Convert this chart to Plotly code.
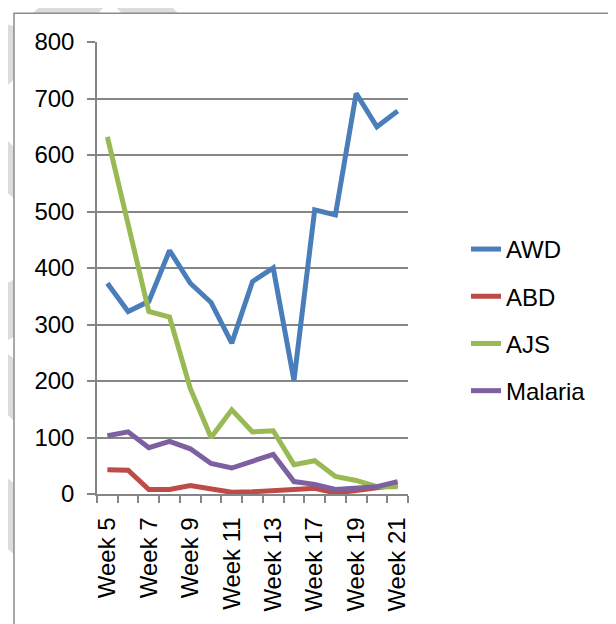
import plotly.graph_objects as go

weeks = ["Week 5", "Week 6", "Week 7", "Week 8", "Week 9", "Week 10", "Week 11",
         "Week 12", "Week 13", "Week 15", "Week 17", "Week 18", "Week 19",
         "Week 20", "Week 21"]
awd = [373, 323, 341, 431, 373, 339, 267, 376, 400, 201, 503, 494, 709, 650, 678]
abd = [43, 42, 8, 8, 15, 8, 3, 4, 7, 8, 10, 2, 6, 10, 16]
ajs = [632, 478, 323, 313, 187, 100, 149, 110, 112, 52, 59, 31, 24, 13, 13]
malaria = [103, 110, 82, 93, 80, 54, 46, 57, 70, 22, 17, 8, 11, 13, 22]

series = [("AWD", awd, "#4A7EBB"), ("ABD", abd, "#BE4B48"),
          ("AJS", ajs, "#98B954"), ("Malaria", malaria, "#7D60A0")]

OFF = 8  # page body margin
W, H = 616 - OFF, 624 - OFF
# plot area in page pixels: x 97..408, y 42..499
L, T = 97 - OFF, 42 - OFF
R, B = W - (408 - OFF), H - (499 - OFF)
PW, PH = W - L - R, H - T - B


def px(x):
    return (x - OFF - L) / PW


def py(y):
    return 1 - (y - OFF - T) / PH


def path(pts):
    return "M " + " L ".join(f"{px(a):.4f},{py(b):.4f}" for a, b in pts) + " Z"


idx = list(range(len(weeks)))
fig = go.Figure()
for name, vals, col in series:
    fig.add_trace(go.Scatter(x=idx, y=vals, mode="lines", name=name,
                             legendgroup=name,
                             line=dict(color=col, width=5)))

grey_band = "#DCDCDC"
shapes = []
wm = [
    [(33, 13), (46, 0), (165, 0), (178, 13), (122, 13), (110, 1), (98, 13)],
    [(0, 22), (14, 26), (14, 80), (0, 92)],
    [(0, 135), (14, 148), (14, 200), (0, 188)],
    [(0, 290), (14, 282), (14, 340), (0, 348)],
    [(0, 352), (14, 362), (14, 425), (0, 412)],
    [(0, 478), (14, 488), (14, 560), (0, 548)],
]
for p in wm:
    shapes.append(dict(type="path", xref="paper", yref="paper", path=path(p),
                       fillcolor=grey_band, line=dict(width=0), layer="below"))
shapes.append(dict(type="rect", xref="paper", yref="paper",
                   x0=px(14), y0=py(640), x1=px(615), y1=py(13),
                   fillcolor="white", line=dict(color="#8C8C8C", width=1.5),
                   layer="below"))
fig.update_layout(shapes=shapes)

font = dict(family="Liberation Sans, Arial, sans-serif", size=24, color="black")
fig.update_layout(
    width=W, height=H,
    margin=dict(l=L, r=R, t=T, b=B, pad=0),
    paper_bgcolor="white", plot_bgcolor="rgba(0,0,0,0)",
    font=font,
    showlegend=True,
    legend=dict(x=px(466), y=py(229), xanchor="left", yanchor="top",
                font=font, tracegroupgap=13, bgcolor="rgba(0,0,0,0)",
                traceorder="grouped"),
    xaxis=dict(range=[-0.5, len(weeks) - 0.5], tickmode="array",
               tickvals=idx[::2], ticktext=weeks[::2], tickangle=-90,
               ticks="", showgrid=False, zeroline=False,
               showline=True, linecolor="#868686", linewidth=1.5,
               ticklabelstandoff=12, tickfont=font,
               minor=dict(tick0=-0.5, dtick=1, ticks="outside", ticklen=7,
                          tickcolor="#868686", tickwidth=1.5, showgrid=False)),
    yaxis=dict(range=[0, 800], dtick=100, tick0=0, ticks="outside", ticklen=8,
               tickcolor="#868686", tickwidth=1.5,
               showgrid=True, gridcolor="#868686", gridwidth=1.5,
               zeroline=False, showline=True, linecolor="#868686", linewidth=1.5,
               ticklabelstandoff=8, tickfont=font),
)
fig.write_html("out.html")
